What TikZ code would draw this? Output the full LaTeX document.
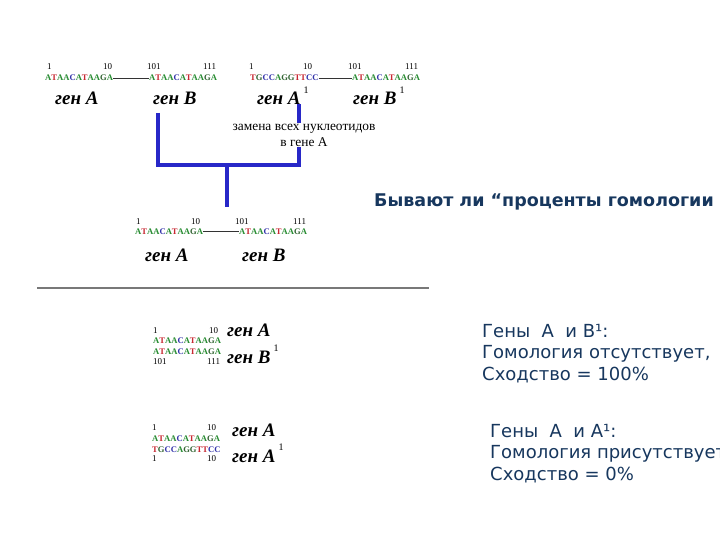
\documentclass[tikz,border=0pt]{standalone}
\usepackage{fontspec}
\setmainfont{Liberation Serif}
\newfontfamily\slidefont{DejaVu Sans}
\usetikzlibrary{positioning,calc}
\definecolor{BaseA}{RGB}{40,140,50}
\definecolor{BaseT}{RGB}{200,40,50}
\definecolor{BaseC}{RGB}{50,50,170}
\definecolor{BaseG}{RGB}{50,100,50}
\definecolor{TreeBlue}{RGB}{40,40,200}
\definecolor{SlideNavy}{RGB}{23,55,94}
\definecolor{RuleGray}{RGB}{120,120,120}
\newcommand{\dna}[1]{\dnaloop#1\relax}
\def\dnaloop#1{\ifx\relax#1\else\textcolor{Base#1}{#1}\expandafter\dnaloop\fi}
\newcommand{\gen}[1]{\textbf{\textit{ген #1}}}
\newcommand{\gensup}{\hspace{3pt}\raisebox{0.6em}{\fontsize{10}{10}\selectfont\mdseries\upshape 1}}
\tikzset{
  seq/.style={font=\fontsize{8.6}{9}\selectfont\bfseries, inner sep=0pt, anchor=base west},
  posnum/.style={font=\fontsize{9}{9}\selectfont, inner sep=0pt, anchor=base west},
  gene/.style={font=\fontsize{19}{19}\selectfont, inner sep=0pt, anchor=base west},
  tree/.style={draw=TreeBlue, line width=4pt},
  link/.style={draw=black!80, line width=0.7pt},
  swapnote/.style={font=\fontsize{13.4}{16}\selectfont, fill=white, align=center, inner sep=1pt},
  slide/.style={font=\slidefont\fontsize{18}{21.5}\selectfont, text=SlideNavy, align=left, inner sep=0pt, anchor=base west}
}

\begin{document}
\begin{tikzpicture}[x=1pt,y=-1pt]
  \fill[white] (0,0) rectangle (720,540);
  \clip (0,0) rectangle (720,540);
  % parent genes
  \node[posnum] (oneA) at (47,70) {1};
  \node[posnum] (tenA) at (103,70) {10};
  \node[seq] (seqA) at (45,81) {\dna{ATAACATAAGA}};
  \node[posnum] (hundA) at (147,70) {101};
  \node[posnum] (lastA) at (203,70) {111};
  \node[seq] (seqB) at (149,81) {\dna{ATAACATAAGA}};
  \draw[link] (seqA.east) -- (seqB.west);
  \node[gene] (genA) at (55,105) {\gen{A}};
  \node[gene] (genB) at (153,105) {\gen{B}};

  \node[posnum] (oneA1) at (249,70) {1};
  \node[posnum] (tenA1) at (303,70) {10};
  \node[seq] (seqA1) at (250,81) {\dna{TGCCAGGTTCC}};
  \node[posnum] (hundB1) at (348,70) {101};
  \node[posnum] (lastB1) at (405,70) {111};
  \node[seq] (seqB1) at (352,81) {\dna{ATAACATAAGA}};
  \draw[link] (seqA1.east) -- (seqB1.west);
  \node[gene] (genA1) at (257,105) {\gen{A}\gensup};
  \node[gene] (genB1) at (353,105) {\gen{B}\gensup};

  % tree
  \coordinate (leftTop) at (158,113);
  \coordinate (rightTop) at (299,104);
  \coordinate (joinMid) at (227,165);
  \coordinate (rootEnd) at (227,207);
  \draw[tree] (leftTop) |- (joinMid) -| (rightTop);
  \draw[tree] (joinMid) -- (rootEnd);
  \node[swapnote] (swap) at (304,135) {замена всех нуклеотидов\\в гене А};

  % ancestor
  \node[posnum] (oneR) at (136,225) {1};
  \node[posnum] (tenR) at (191,225) {10};
  \node[seq] (seqR) at (135,234) {\dna{ATAACATAAGA}};
  \node[posnum] (hundR) at (235,225) {101};
  \node[posnum] (lastR) at (293,225) {111};
  \node[seq] (seqRB) at (239,234) {\dna{ATAACATAAGA}};
  \draw[link] (seqR.east) -- (seqRB.west);
  \node[gene] (genR) at (145,261) {\gen{A}};
  \node[gene] (genRB) at (242,261) {\gen{B}};

  \node[font=\slidefont\bfseries\fontsize{17.5}{17.5}\selectfont, text=SlideNavy, inner sep=0pt, anchor=base west]
    (question) at (374,207) {Бывают ли “проценты гомологии};

  \draw[RuleGray, line width=2pt] (37,288) -- (429,288);

  % A vs B1
  \node[posnum] (oneP) at (153,333) {1};
  \node[posnum] (tenP) at (209,333) {10};
  \node[seq] (seqPA) at (153,343) {\dna{ATAACATAAGA}};
  \node[seq] (seqPB) at (153,354) {\dna{ATAACATAAGA}};
  \node[posnum] (hundP) at (153,364) {101};
  \node[posnum] (lastP) at (207,364) {111};
  \node[gene] (genPA) at (227,336) {\gen{A}};
  \node[gene] (genPB) at (227,363) {\gen{B}\gensup};
  \node[slide] (simB) at (482,380) {Гены\ \ А\ \ и В¹:\\Гомология отсутствует,\\Сходство = 100\%};

  % A vs A1
  \node[posnum] (oneQ) at (152,430) {1};
  \node[posnum] (tenQ) at (207,430) {10};
  \node[seq] (seqQA) at (152,441) {\dna{ATAACATAAGA}};
  \node[seq] (seqQB) at (152,452) {\dna{TGCCAGGTTCC}};
  \node[posnum] (oneQB) at (152,461) {1};
  \node[posnum] (tenQB) at (207,461) {10};
  \node[gene] (genQA) at (232,436) {\gen{A}};
  \node[gene] (genQB) at (232,462) {\gen{A}\gensup};
  \node[slide] (simA) at (490,480) {Гены\ \ А\ \ и А¹:\\Гомология присутствует\\Сходство = 0\%};
\end{tikzpicture}
\end{document}
